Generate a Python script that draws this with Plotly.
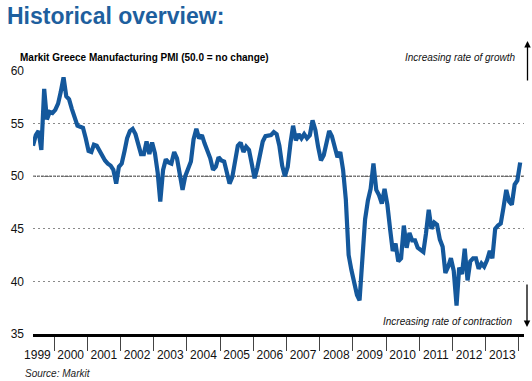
import pandas as pd
import plotly.graph_objects as go

# Monthly Markit Greece Manufacturing PMI readings (first month: May 1999)
start_month = "1999-05"
pmi_1999 = [52.9, 53.9, 54.3, 52.5, 58.3, 55.4, 56.1, 56.0]
pmi_2000 = [56.3, 56.9, 58.0, 59.4, 57.6, 57.3, 56.4, 55.5, 54.8, 54.7, 54.6, 53.6]
pmi_2001 = [52.4, 52.3, 53.0, 52.9, 52.4, 51.8, 51.5, 51.2, 51.0, 50.6, 49.3, 50.9]
pmi_2002 = [51.2, 52.4, 53.6, 54.3, 54.5, 54.0, 53.1, 52.1, 52.1, 53.3, 52.1, 53.2]
pmi_2003 = [52.2, 50.3, 47.6, 50.6, 51.6, 51.3, 51.2, 52.3, 51.7, 50.4, 48.7, 50.0]
pmi_2004 = [50.7, 51.4, 53.5, 54.5, 53.6, 53.9, 53.1, 52.5, 51.7, 50.6, 50.9, 51.8]
pmi_2005 = [51.5, 51.4, 50.5, 49.3, 49.9, 51.5, 52.9, 53.2, 52.3, 52.8, 52.5, 51.2]
pmi_2006 = [49.8, 50.8, 52.0, 53.3, 53.8, 53.9, 53.9, 54.2, 54.0, 52.9, 51.0, 50.0]
pmi_2007 = [50.9, 53.2, 54.8, 53.4, 54.0, 53.6, 54.0, 53.6, 53.9, 55.3, 54.4, 52.8]
pmi_2008 = [51.5, 52.0, 53.0, 54.3, 53.8, 52.6, 51.8, 52.3, 50.6, 47.8, 42.5, 41.1]
pmi_2009 = [40.0, 38.7, 38.2, 41.8, 45.9, 47.7, 48.8, 51.2, 48.7, 48.2, 47.4, 48.8]
pmi_2010 = [47.3, 44.9, 42.9, 43.6, 41.9, 42.2, 45.3, 43.2, 44.6, 43.9, 43.9, 43.2]
pmi_2011 = [43.0, 42.8, 44.5, 46.8, 45.0, 45.6, 45.4, 44.0, 43.3, 40.8, 41.4, 42.2]
pmi_2012 = [41.0, 37.7, 41.3, 40.7, 43.1, 40.1, 41.9, 42.2, 42.2, 41.2, 41.7, 41.4]
pmi_2013 = [42.0, 42.9, 42.2, 45.0, 45.3, 45.5, 47.0, 48.7, 47.6, 47.3, 49.2, 49.6]
pmi_2014 = [51.3]

y_ticks = [35, 40, 45, 50, 55, 60]
no_change = 50.0

pmi = (pmi_1999 + pmi_2000 + pmi_2001 + pmi_2002 + pmi_2003 + pmi_2004 + pmi_2005
       + pmi_2006 + pmi_2007 + pmi_2008 + pmi_2009 + pmi_2010 + pmi_2011 + pmi_2012
       + pmi_2013 + pmi_2014)
dates = pd.date_range(start_month, periods=len(pmi), freq="MS") + pd.Timedelta(days=14)

LINE = "#14589C"
TITLE = "#1E5F9E"
FONT = "Liberation Sans, Arial, sans-serif"

fig = go.Figure()
fig.add_trace(go.Scatter(x=dates, y=pmi, mode="lines",
                         line=dict(color=LINE, width=4.2), hoverinfo="skip"))

fig.add_shape(type="line", xref="paper", x0=0, x1=1, yref="y", y0=no_change, y1=no_change,
              line=dict(color="#222222", width=1, dash="3px,1px"), layer="below")

fig.update_layout(
    width=532, height=381,
    margin=dict(l=33, r=8, t=71, b=47, autoexpand=False),
    paper_bgcolor="white", plot_bgcolor="white",
    showlegend=False,
    font=dict(family=FONT, color="#111111"),
    title=dict(text="<b>Historical overview:</b>", x=7/532, xanchor="left",
               xref="container", yref="container", y=1 - 15.5/381, yanchor="middle",
               font=dict(size=23, color=TITLE, family=FONT)),
    xaxis=dict(type="date", automargin=False,
               range=["1999-05-15", "2014-02-26"],
               dtick="M12", tick0="2000-01-01", tickformat="%Y",
               ticklabelmode="period", ticks="outside", ticklen=14,
               tickcolor="#444444", tickwidth=1,
               showline=True, linecolor="black", linewidth=3,
               showgrid=False, zeroline=False,
               tickfont=dict(size=12, color="#111111"),
               ticklabelstandoff=-6),
    yaxis=dict(range=[35, 60], tickvals=y_ticks, ticks="", automargin=False,
               showgrid=True, gridcolor="#8a8a8a", gridwidth=1, griddash="2px,3px",
               zeroline=False, showline=False,
               tickfont=dict(size=12, color="#111111"),
               ticklabelstandoff=8),
)

def px_x(p):
    return (p - 33) / 491

def px_y(p):
    return (334 - p) / 263

fig.add_annotation(text="<b>Markit Greece Manufacturing PMI (50.0 = no change)</b>",
                   xref="paper", yref="paper", x=px_x(18), y=px_y(57),
                   xanchor="left", yanchor="middle", showarrow=False,
                   font=dict(size=10, color="#000000"))
fig.add_annotation(text="<i>Increasing rate of growth</i>",
                   xref="paper", yref="paper", x=px_x(517), y=px_y(58),
                   xanchor="right", yanchor="middle", showarrow=False,
                   font=dict(size=10, color="#111111"))
fig.add_annotation(text="<i>Increasing rate of contraction</i>",
                   xref="paper", yref="paper", x=px_x(514), y=px_y(321.5),
                   xanchor="right", yanchor="middle", showarrow=False,
                   font=dict(size=10, color="#111111"))
fig.add_annotation(text="<i>Source: Markit</i>",
                   xref="paper", yref="paper", x=px_x(23), y=px_y(373),
                   xanchor="left", yanchor="middle", showarrow=False,
                   font=dict(size=10, color="#222222"))
# direction arrows
fig.add_annotation(text="", xref="paper", yref="paper", x=px_x(527.5), y=px_y(41),
                   ax=0, ay=41, showarrow=True, arrowhead=2, arrowsize=1,
                   arrowwidth=1.3, arrowcolor="black")
fig.add_annotation(text="", xref="paper", yref="paper", x=px_x(527), y=px_y(327),
                   ax=0, ay=-44, showarrow=True, arrowhead=2, arrowsize=1,
                   arrowwidth=1.3, arrowcolor="black")

fig.write_html("out.html", config={"displayModeBar": False},
               post_script="document.body.style.margin='0';document.body.style.overflow='hidden';")
